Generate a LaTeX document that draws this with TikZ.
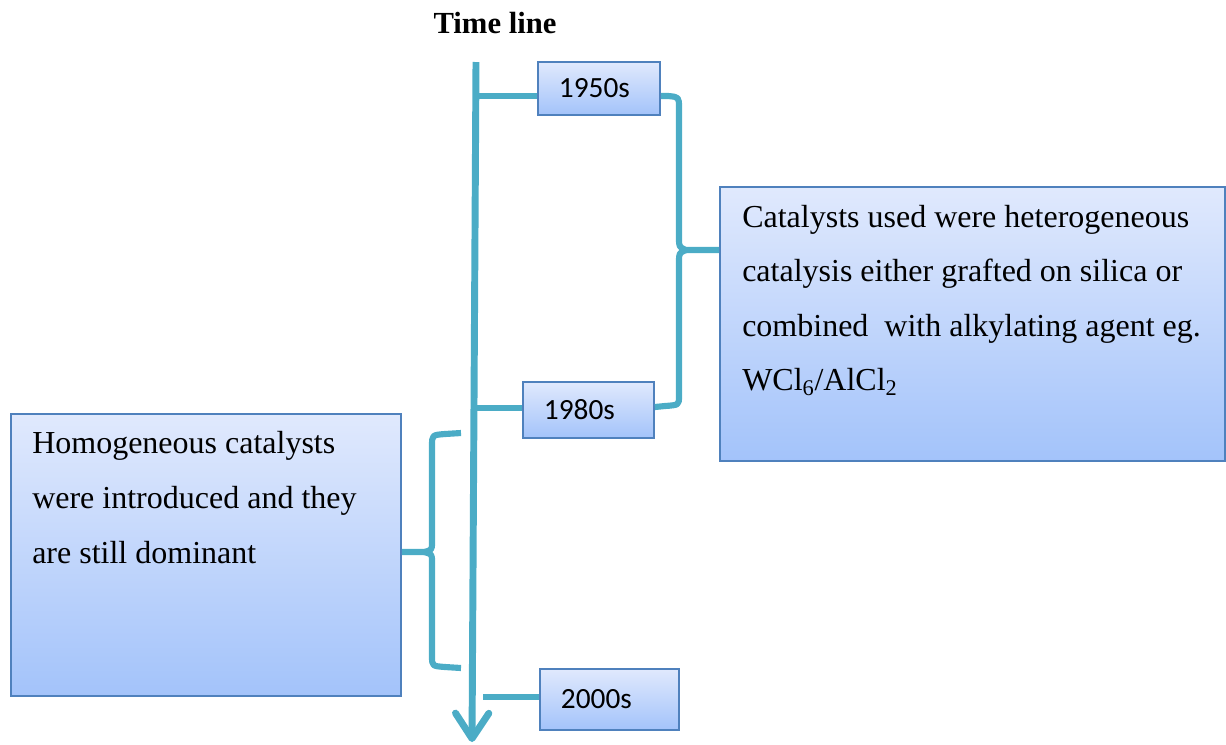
\documentclass[tikz,border=0pt]{standalone}
\usepackage{fontspec}
\setmainfont{Liberation Serif}
\newfontfamily\calibri{Carlito}
\usetikzlibrary{arrows.meta,fit}
\definecolor{tl}{RGB}{75,172,198}
\definecolor{bborder}{RGB}{79,129,189}
\definecolor{btop}{RGB}{224,233,253}
\definecolor{bbot}{RGB}{163,195,250}
\tikzset{
  gbox/.style={draw=bborder, line width=1.4pt, top color=btop, bottom color=bbot, rectangle, inner sep=0pt},
  yearbox/.style={gbox, anchor=north west, align=left, inner xsep=15.75pt, font=\calibri\fontsize{22pt}{26pt}\selectfont},
  bigbox/.style={gbox},
  txt/.style={anchor=base west, inner sep=0pt, font=\fontsize{24pt}{41pt}\selectfont},
  conn/.style={draw=tl, line width=5.2pt},
  brace/.style={draw=tl, line width=4.6pt, line join=round},
}
\begin{document}
\begin{tikzpicture}[x=0.75pt,y=-0.75pt]
\useasboundingbox (0,0) rectangle (1226,744);
% title
\node[anchor=base, inner sep=0pt, font=\bfseries\fontsize{23pt}{28pt}\selectfont] (title) at (495,33) {Time line};
% timeline
\coordinate (tltop) at (476,62);
\coordinate (tlbot) at (472,742);
\draw[conn, -{Straight Barb[length=19pt, width=25pt, round]}] (tltop) -- (tlbot);
% year boxes
\node[yearbox, minimum width=91.5pt, minimum height=39.75pt, text width=60pt] (b1950) at (537,61) {1950s};
\node[yearbox, minimum width=98.25pt, minimum height=42pt, text width=66.75pt] (b1980) at (522,381) {1980s};
\node[yearbox, minimum width=104.25pt, minimum height=45.75pt, text width=72.75pt] (b2000) at (539,668) {2000s};
% big boxes
\node[bigbox, fit={(720,187) (1225,461)}] (rbox) {};
\node[bigbox, fit={(11,414) (401,696)}] (lbox) {};
% right box text
\node[txt] (r1) at (742,227) {Catalysts used were heterogeneous};
\node[txt] (r2) at (742,281.5) {catalysis either grafted on silica or};
\node[txt] (r3) at (742,336) {combined\ \ with alkylating agent eg.};
\node[txt] (r4) at (742,390.5) {WCl\textsubscript{6}/AlCl\textsubscript{2}};
% left box text
\node[txt] (l1) at (32,453) {Homogeneous catalysts};
\node[txt] (l2) at (32,508) {were introduced and they};
\node[txt] (l3) at (32,563) {are still dominant};
% connectors from timeline to year boxes
\coordinate (c1950) at (476,96);
\coordinate (c1980) at (475,408);
\coordinate (c2000) at (483,697);
\draw[conn] (c1950) -- (c1950 -| b1950.west);
\draw[conn] (c1980) -- (c1980 -| b1980.west);
\draw[conn] (c2000) -- (c2000 -| b2000.west);
% right brace
\coordinate (rtip) at (686,250);
\draw[brace] (b1950.east |- c1950) -- (668,96) .. controls (679,97) .. (679,108) -- (679,238) .. controls (679,247) .. (rtip) -- (rtip -| rbox.west);
\draw[brace] (rtip) .. controls (679,253) .. (679,262) -- (679,396) .. controls (679,405) .. (665,406) -- (b1980.east |- 0,407);
% left brace
\coordinate (ltip) at (424,552);
\coordinate (ltop) at (461,433);
\coordinate (lbot) at (461,668);
\draw[brace] (ltop) -- (445,434) .. controls (432,435) .. (432,446) -- (432,542) .. controls (432,550) .. (ltip) -- (ltip -| lbox.east);
\draw[brace] (ltip) .. controls (432,554) .. (432,562) -- (432,656) .. controls (432,666) .. (445,667) -- (lbot);
\end{tikzpicture}
\end{document}
